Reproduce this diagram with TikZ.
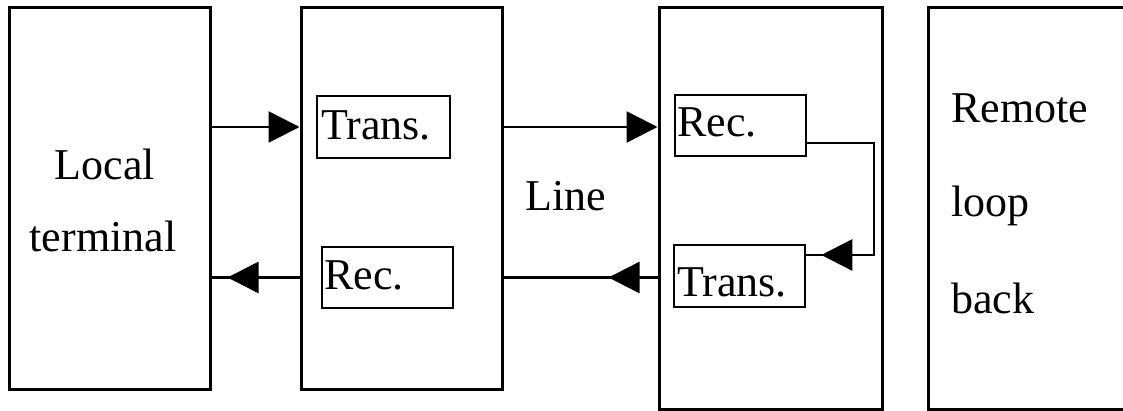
\documentclass[tikz,border=0pt]{standalone}
\usepackage{fontspec}
\setmainfont{Liberation Serif}
\usetikzlibrary{arrows.meta,calc}
\begin{document}
\begin{tikzpicture}[x=1pt,y=-1pt,
  outerbox/.style={draw,line width=3pt,inner sep=0pt},
  innerbox/.style={draw,line width=2.6pt,inner sep=0pt},
  wire/.style={line width=2.6pt},
  arr/.style={wire,-{Triangle[length=31pt,width=31pt]}},
  txt/.style={font=\fontsize{44}{50}\selectfont,inner sep=0pt}]
\useasboundingbox (0,0) rectangle (1123,411);
\clip (0,0) rectangle (1123,411);

% main blocks
\node[outerbox,minimum width=201pt,minimum height=381pt] (b1) at (109.5,198.5) {};
\node[outerbox,minimum width=201pt,minimum height=381pt] (b2) at (401.5,198.5) {};
\node[outerbox,minimum width=223pt,minimum height=401pt] (b3) at (770.5,208.5) {};
\node[outerbox,minimum width=212pt,minimum height=401pt] (b4) at (1034,208.5) {};

% transmitter / receiver frames
\node[innerbox,minimum width=133pt,minimum height=62pt] (t2) at (383.5,127) {};
\node[innerbox,minimum width=131pt,minimum height=61pt] (r2) at (387.5,277.5) {};
\node[innerbox,minimum width=131pt,minimum height=61pt] (r3) at (740.5,125.5) {};
\node[innerbox,minimum width=131pt,minimum height=62pt] (t3) at (739.5,276) {};

% labels
\node[txt,anchor=base] (lloc) at (105,180) {Local};
\node[txt,anchor=base] (lterm) at (103,252) {terminal};
\node[txt,anchor=base west] (lt2) at (321,140) {Trans.};
\node[txt,anchor=base west] (lr2) at (324,290) {Rec.};
\node[txt,anchor=base west] (lline) at (525,211) {Line};
\node[txt,anchor=base west] (lr3) at (677,137) {Rec.};
\node[txt,anchor=base west] (lt3) at (677,297) {Trans.};
\node[txt,anchor=base west] (lrem) at (951,123) {Remote};
\node[txt,anchor=base west] (lloop) at (951,217) {loop};
\node[txt,anchor=base west] (lback) at (951,313) {back};

% forward path
\draw[arr] (b1.east |- t2) -- (b2.west |- t2);
\draw[arr] (b2.east |- t2) -- (b3.west |- t2);

% return path, heads part way along the wires
\coordinate (tipA) at ($(b1.east |- r2)+(16,0)$);
\coordinate (tipB) at ($(b2.east |- r2)+(105,0)$);
\draw[wire] (b2.west |- r2) -- (b1.east |- r2);
\draw[arr] (b2.west |- r2) -- (tipA);
\draw[wire] (b3.west |- r2) -- (b2.east |- r2);
\draw[arr] (b3.west |- r2) -- (tipB);

% remote loop back
\coordinate (lpA) at (r3.east |- 0,143);
\coordinate (lpB) at (874,143);
\coordinate (lpC) at (874,255);
\coordinate (lpD) at (t3.east |- 0,255);
\coordinate (tipC) at ($(lpD)+(15,0)$);
\draw[wire,line join=miter] (lpA) -- (lpB) -- (lpC) -- (lpD);
\draw[arr] (lpC) -- (tipC);
\end{tikzpicture}
\end{document}
